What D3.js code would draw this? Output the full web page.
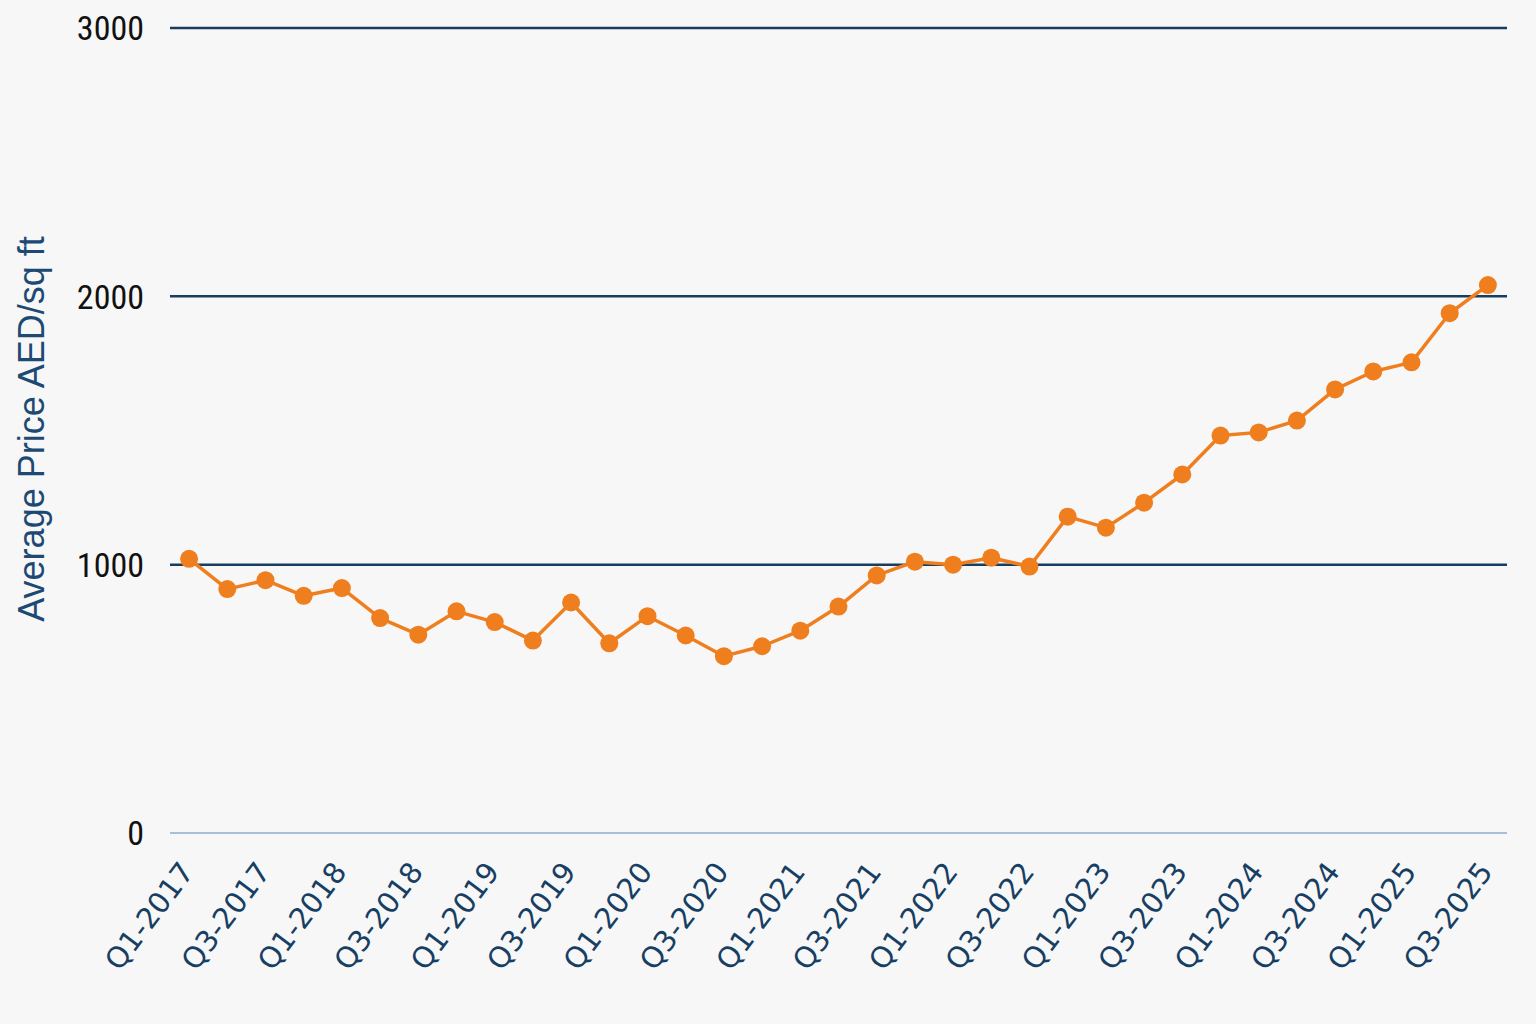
<!DOCTYPE html>
<html><head><meta charset="utf-8">
<script src="https://cdn.jsdelivr.net/npm/d3@7"></script>
<style>
html,body{margin:0;padding:0;background:#f7f7f7;}
svg{display:block;}
</style></head>
<body>
<script>
const quarters = ["Q1-2017","Q2-2017","Q3-2017","Q4-2017","Q1-2018","Q2-2018","Q3-2018","Q4-2018",
"Q1-2019","Q2-2019","Q3-2019","Q4-2019","Q1-2020","Q2-2020","Q3-2020","Q4-2020",
"Q1-2021","Q2-2021","Q3-2021","Q4-2021","Q1-2022","Q2-2022","Q3-2022","Q4-2022",
"Q1-2023","Q2-2023","Q3-2023","Q4-2023","Q1-2024","Q2-2024","Q3-2024","Q4-2024",
"Q1-2025","Q2-2025","Q3-2025"];
const prices = [1022,909,942,884,913,801,739,826,786,717,859,707,808,736,659,696,
754,844,960,1011,1000,1026,993,1179,1138,1231,1336,1481,1493,1537,1653,1720,1754,1937,2042];
const yTicks = [0,1000,2000,3000];
const xTickLabels = quarters.filter((q,i)=>i%2===0);
const yTitle = "Average Price AED/sq ft";

const W=1536,H=1024;
const svg=d3.select("body").append("svg").attr("width",W).attr("height",H);
svg.append("rect").attr("width",W).attr("height",H).attr("fill","#f7f7f7");

const x=d3.scalePoint().domain(quarters).range([170,1507]).padding(0.5);
const y=d3.scaleLinear().domain([0,3000]).range([833,28]);

// gridlines
svg.append("g").selectAll("line").data(yTicks).join("line")
  .attr("x1",170).attr("x2",1507)
  .attr("y1",d=>y(d)).attr("y2",d=>y(d))
  .attr("stroke",d=>d===0?"#a8bfd9":"#173e5f")
  .attr("stroke-width",d=>d===0?2:2.5);

// y tick labels
svg.append("g").selectAll("text").data(yTicks).join("text")
  .attr("x",144).attr("y",d=>y(d)).attr("dy","0.36em")
  .attr("text-anchor","end")
  .attr("font-family","'Liberation Sans Narrow','Roboto Condensed','Arial Narrow',sans-serif")
  .attr("font-size",34).attr("fill","#111")
  .text(d=>d);

// y title
svg.append("text")
  .attr("transform","translate(44,429) rotate(-90)")
  .attr("text-anchor","middle")
  .attr("font-family","'Liberation Sans',Arial,sans-serif")
  .attr("font-size",36).attr("fill","#1d4a74")
  .text(yTitle);

// x labels
svg.append("g").selectAll("text").data(xTickLabels).join("text")
  .attr("transform",d=>`translate(${x(d)+6},872) rotate(-53)`)
  .attr("text-anchor","end")
  .attr("font-family","'DejaVu Sans',sans-serif")
  .attr("font-size",29).attr("fill","#173e63")
  .text(d=>d);

// line
const line=d3.line().x((d,i)=>x(quarters[i])).y(d=>y(d));
svg.append("path").datum(prices).attr("d",line)
  .attr("fill","none").attr("stroke","#ef7f1e").attr("stroke-width",3.5)
  .attr("stroke-linejoin","round");
svg.append("g").selectAll("circle").data(prices).join("circle")
  .attr("cx",(d,i)=>x(quarters[i])).attr("cy",d=>y(d)).attr("r",9)
  .attr("fill","#ef7f1e");
</script>
</body></html>
